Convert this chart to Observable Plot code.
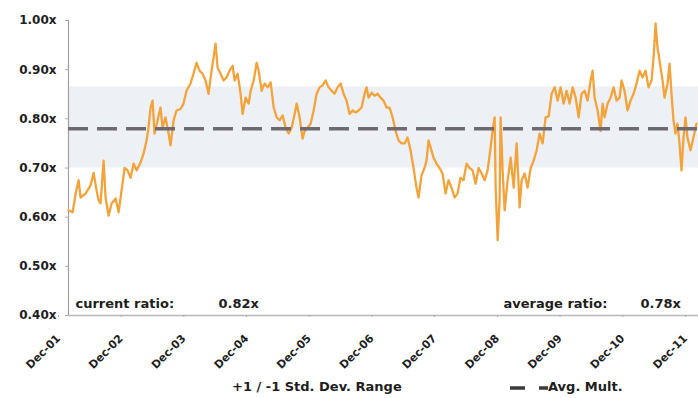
<!DOCTYPE html>
<html><head><meta charset="utf-8">
<script src="https://cdn.jsdelivr.net/npm/d3@7"></script>
<script src="https://cdn.jsdelivr.net/npm/@observablehq/plot@0.6"></script>
<style>
body{margin:0;background:#fff;}
#wrap{position:relative;width:698px;height:398px;overflow:hidden;font-family:"DejaVu Sans",sans-serif;font-weight:bold;color:#1e1e1e;background:#fff;}
#legend{position:absolute;left:0;top:372px;width:698px;height:26px;font-size:13px;}
.item{position:absolute;top:7px;white-space:nowrap;line-height:15px;}
</style></head><body>
<div id="wrap"><div id="chart"></div>
<div id="legend">
  <div class="item" style="left:232px">+1 / -1 Std. Dev. Range</div>
  <div class="item" style="left:510px"><svg width="38" height="12" style="vertical-align:middle"><line x1="0" x2="38" y1="6" y2="6" stroke="#3a3a3a" stroke-width="3.5" stroke-dasharray="15 14"/></svg>Avg. Mult.</div>
</div></div>
<script>
// decimal-year time of each reading, and the multiple
const years = [2001.917,2001.981,2002.029,2002.077,2002.108,2002.188,2002.268,2002.316,2002.364,2002.396,2002.427,2002.475,2002.507,2002.555,2002.603,2002.667,2002.715,2002.762,2002.810,2002.858,2002.906,2002.954,2003.002,2003.065,2003.113,2003.161,2003.193,2003.225,2003.257,2003.289,2003.337,2003.384,2003.416,2003.464,2003.512,2003.544,2003.592,2003.640,2003.703,2003.751,2003.799,2003.863,2003.911,2003.959,2004.006,2004.054,2004.102,2004.150,2004.198,2004.230,2004.262,2004.294,2004.341,2004.389,2004.437,2004.485,2004.533,2004.565,2004.613,2004.660,2004.692,2004.740,2004.788,2004.820,2004.868,2004.916,2004.947,2004.995,2005.043,2005.091,2005.139,2005.187,2005.235,2005.282,2005.330,2005.378,2005.426,2005.474,2005.522,2005.554,2005.601,2005.649,2005.681,2005.729,2005.777,2005.825,2005.873,2005.920,2005.968,2006.016,2006.064,2006.112,2006.160,2006.207,2006.255,2006.303,2006.351,2006.399,2006.447,2006.495,2006.542,2006.590,2006.638,2006.670,2006.702,2006.750,2006.797,2006.845,2006.893,2006.941,2006.989,2007.037,2007.085,2007.132,2007.180,2007.228,2007.276,2007.324,2007.372,2007.420,2007.467,2007.499,2007.547,2007.595,2007.627,2007.659,2007.691,2007.739,2007.786,2007.834,2007.882,2007.930,2007.978,2008.026,2008.074,2008.121,2008.169,2008.217,2008.265,2008.313,2008.361,2008.409,2008.457,2008.504,2008.552,2008.600,2008.648,2008.680,2008.712,2008.728,2008.760,2008.791,2008.807,2008.839,2008.871,2008.919,2008.967,2009.015,2009.063,2009.110,2009.142,2009.190,2009.238,2009.286,2009.334,2009.382,2009.429,2009.477,2009.525,2009.573,2009.621,2009.669,2009.717,2009.764,2009.812,2009.860,2009.908,2009.956,2010.004,2010.052,2010.099,2010.147,2010.195,2010.243,2010.275,2010.307,2010.355,2010.402,2010.434,2010.466,2010.514,2010.562,2010.610,2010.658,2010.706,2010.737,2010.785,2010.833,2010.881,2010.929,2010.977,2011.024,2011.072,2011.120,2011.168,2011.216,2011.248,2011.280,2011.311,2011.343,2011.391,2011.423,2011.471,2011.503,2011.534,2011.566,2011.598,2011.630,2011.662,2011.694,2011.726,2011.758,2011.789,2011.837,2011.885,2011.933];
const ratios = [0.614,0.610,0.648,0.675,0.640,0.648,0.665,0.690,0.654,0.634,0.628,0.715,0.640,0.603,0.628,0.638,0.610,0.654,0.700,0.695,0.680,0.709,0.695,0.711,0.729,0.756,0.782,0.823,0.837,0.770,0.797,0.823,0.782,0.803,0.770,0.746,0.797,0.817,0.820,0.831,0.857,0.872,0.892,0.914,0.898,0.892,0.878,0.851,0.898,0.925,0.953,0.904,0.892,0.878,0.884,0.898,0.908,0.878,0.892,0.851,0.810,0.843,0.831,0.857,0.878,0.914,0.898,0.857,0.872,0.864,0.874,0.823,0.803,0.797,0.807,0.782,0.770,0.782,0.810,0.831,0.803,0.760,0.775,0.782,0.790,0.817,0.851,0.864,0.868,0.878,0.864,0.857,0.851,0.864,0.872,0.851,0.837,0.810,0.817,0.813,0.817,0.823,0.851,0.864,0.843,0.853,0.847,0.851,0.843,0.837,0.823,0.823,0.803,0.776,0.756,0.750,0.750,0.762,0.736,0.700,0.660,0.640,0.685,0.700,0.715,0.756,0.742,0.721,0.709,0.700,0.689,0.648,0.675,0.660,0.640,0.648,0.680,0.675,0.709,0.700,0.695,0.668,0.700,0.689,0.675,0.695,0.742,0.776,0.803,0.660,0.553,0.634,0.803,0.695,0.614,0.675,0.721,0.660,0.750,0.620,0.675,0.689,0.660,0.700,0.715,0.736,0.770,0.750,0.803,0.805,0.851,0.864,0.837,0.864,0.831,0.857,0.831,0.864,0.843,0.803,0.851,0.857,0.837,0.878,0.898,0.843,0.817,0.775,0.831,0.803,0.831,0.843,0.864,0.837,0.843,0.878,0.857,0.817,0.837,0.851,0.872,0.898,0.884,0.898,0.864,0.878,0.925,0.994,0.945,0.919,0.878,0.843,0.872,0.912,0.851,0.797,0.770,0.790,0.750,0.695,0.762,0.803,0.762,0.736,0.762,0.790];
const tickYears = [2001,2002,2003,2004,2005,2006,2007,2008,2009,2010,2011];
const yTicks = [0.40,0.50,0.60,0.70,0.80,0.90,1.00];
const stdBand = [0.70, 0.865];
const avgMultiple = 0.78;
const currentRatio = 0.82;
const xEndYear = 2011.965;

const toDate = t => { const y = Math.floor(t); const a = Date.UTC(y,0,1), b = Date.UTC(y+1,0,1); return new Date(a + (t - y) * (b - a)); };
const series = years.map((t, i) => ({date: toDate(t), ratio: ratios[i]}));
const tickDates = tickYears.map(y => new Date(Date.UTC(y, 11, 1)));
const xDomain = [tickDates[0], toDate(xEndYear)];
const fmt = v => v.toFixed(2) + "x";

const chart = Plot.plot({
  width: 698, height: 372,
  marginLeft: 68, marginRight: 0, marginTop: 20, marginBottom: 57,
  style: {fontFamily: "DejaVu Sans", fontSize: "12px", fontWeight: "bold", color: "#1e1e1e", background: "white", overflow: "visible"},
  x: {type: "utc", domain: xDomain},
  y: {domain: [yTicks[0], yTicks[yTicks.length - 1]]},
  marks: [
    Plot.rect([stdBand], {x1: () => xDomain[0], x2: () => xDomain[1], y1: d => d[0], y2: d => d[1], fill: "#edf0f5"}),
    Plot.ruleY([yTicks[0]], {stroke: "#b8b8b8", strokeWidth: 1.5}),
    Plot.ruleX([tickDates[0]], {stroke: "#a0a0a0", strokeWidth: 1.2}),
    Plot.line(series, {x: "date", y: "ratio", stroke: "#f4a23a", strokeWidth: 2.3}),
    Plot.ruleY([avgMultiple], {stroke: "#6e6a6f", strokeWidth: 3.5, strokeDasharray: "20 9"}),
    Plot.axisY({ticks: yTicks, tickFormat: fmt, tickSize: 3, tickPadding: 9, label: null, stroke: "#aaa", fill: "#1e1e1e"}),
    Plot.axisX({ticks: tickDates, tickFormat: d3.utcFormat("%b-%y"), tickRotate: -45, tickSize: 2, tickPadding: 19, dx: -10, fontSize: 11, label: null, stroke: "#aaa", fill: "#1e1e1e"}),
    Plot.text(["current ratio:"], {text: d => d, frameAnchor: "bottom-left", textAnchor: "start", lineAnchor: "bottom", dx: 7, dy: -8, fontSize: 13, fill: "#1e1e1e"}),
    Plot.text([currentRatio], {text: fmt, frameAnchor: "bottom-left", textAnchor: "start", lineAnchor: "bottom", dx: 150, dy: -8, fontSize: 13, fill: "#1e1e1e"}),
    Plot.text(["average ratio:"], {text: d => d, frameAnchor: "bottom-left", textAnchor: "start", lineAnchor: "bottom", dx: 435, dy: -8, fontSize: 13, fill: "#1e1e1e"}),
    Plot.text([avgMultiple], {text: fmt, frameAnchor: "bottom-left", textAnchor: "start", lineAnchor: "bottom", dx: 572, dy: -8, fontSize: 13, fill: "#1e1e1e"})
  ]
});
document.getElementById("chart").appendChild(chart);
</script>
</body></html>
